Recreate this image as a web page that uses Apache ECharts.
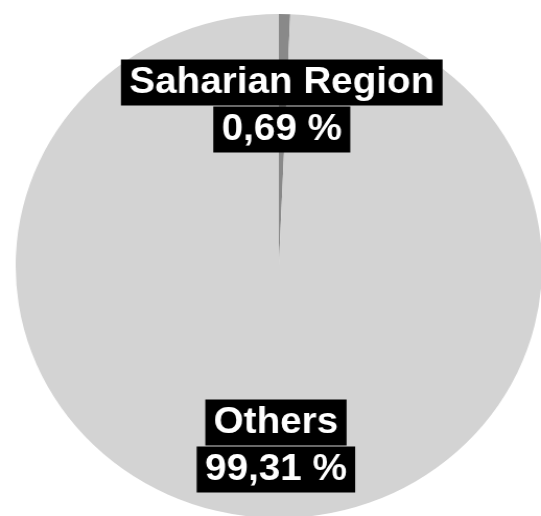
<!DOCTYPE html>
<html>
<head>
<meta charset="utf-8">
<script src="https://cdn.jsdelivr.net/npm/echarts@6/dist/echarts.min.js"></script>
<style>
html,body{margin:0;padding:0;background:#fff;overflow:hidden;}
#chart{width:518px;height:516px;transform:scaleX(1.0444);transform-origin:0 0;}
</style>
</head>
<body>
<div id="chart"></div>
<script>
const categories = ['Saharian Region', 'Others'];
const values = [0.69, 99.31];
const colors = ['#898989', '#d3d3d3'];
const labelShift = [-31, 51];

const chart = echarts.init(document.getElementById('chart'), null, {renderer: 'canvas'});
chart.setOption({
  animation: false,
  backgroundColor: '#ffffff',
  series: [{
    type: 'pie',
    center: [267, 266],
    radius: [0, 252],
    startAngle: 90,
    clockwise: true,
    avoidLabelOverlap: false,
    data: categories.map((n, i) => ({name: n, value: values[i], itemStyle: {color: colors[i]}})),
    itemStyle: {borderWidth: 0},
    labelLine: {show: false},
    emphasis: {disabled: true},
    label: {
      show: true,
      position: 'inside',
      formatter: p => '{a|' + p.name + '}\n{a|' + p.value.toFixed(2).replace('.', ',') + ' %}',
      rich: {
        a: {
          fontFamily: '"Liberation Sans", Arial, sans-serif',
          fontWeight: 'bold',
          fontSize: 37,
          lineHeight: 47,
          color: '#ffffff',
          backgroundColor: '#000000',
          padding: [5, 8, 4, 8],
          align: 'center'
        }
      }
    },
    labelLayout: p => ({dy: labelShift[p.dataIndex]})
  }]
});
</script>
</body>
</html>
